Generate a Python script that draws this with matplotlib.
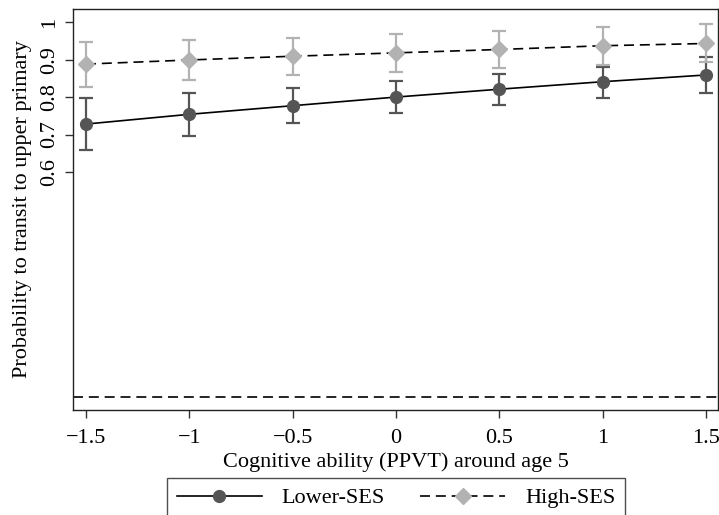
import matplotlib
matplotlib.use('Agg')
from matplotlib import pyplot as plt
from matplotlib.lines import Line2D

plt.rcParams['font.family'] = ['Liberation Serif', 'DejaVu Serif']

# cognitive ability (PPVT) grid
ppvt = [-1.5, -1, -0.5, 0, 0.5, 1, 1.5]

# Lower-SES predicted probability and 95% CI
low_p = [0.728, 0.754, 0.777, 0.800, 0.821, 0.841, 0.859]
low_lo = [0.658, 0.697, 0.730, 0.757, 0.779, 0.797, 0.811]
low_hi = [0.797, 0.810, 0.825, 0.842, 0.862, 0.881, 0.906]

# High-SES predicted probability and 95% CI
high_p = [0.888, 0.899, 0.909, 0.918, 0.927, 0.937, 0.943]
high_lo = [0.827, 0.845, 0.860, 0.868, 0.877, 0.885, 0.893]
high_hi = [0.947, 0.952, 0.958, 0.967, 0.975, 0.987, 0.995]

yticks = [0.6, 0.7, 0.8, 0.9, 1]
ytick_labels = ['0.6', '0.7', '0.8', '0.9', '1']
xticks = [-1.5, -1, -0.5, 0, 0.5, 1, 1.5]
xtick_labels = ['\u22121.5', '\u22121', '\u22120.5', '0', '0.5', '1', '1.5']

dark = '#555555'
light = '#b2b2b2'
dash = (0, (6, 3.5))
fs = 16

fig = plt.figure(figsize=(7.19, 5.15), dpi=100)
ax = fig.add_axes([0.1015, 0.2039, 0.8971, 0.7786])

ax.axhline(0, color='black', lw=1.2, linestyle=dash, zorder=1)

# error bars
ax.errorbar(ppvt, low_p,
            yerr=[[p - l for p, l in zip(low_p, low_lo)], [h - p for p, h in zip(low_p, low_hi)]],
            fmt='none', ecolor=dark, elinewidth=1.6, capsize=5, capthick=1.6, zorder=2)
ax.errorbar(ppvt, high_p,
            yerr=[[p - l for p, l in zip(high_p, high_lo)], [h - p for p, h in zip(high_p, high_hi)]],
            fmt='none', ecolor=light, elinewidth=1.6, capsize=5, capthick=1.6, zorder=2)

# lines and markers
ax.plot(ppvt, low_p, color='black', lw=1.2, zorder=3)
ax.plot(ppvt, low_p, 'o', color=dark, markersize=8.5, zorder=4)
ax.plot(ppvt, high_p, color='black', lw=1.2, linestyle=dash, zorder=3)
ax.plot(ppvt, high_p, 'D', color=light, markersize=8, zorder=4)

ax.set_xlim(-1.563, 1.558)
ax.set_ylim(-0.035, 1.035)
ax.set_xticks(xticks)
ax.set_xticklabels(xtick_labels)
ax.set_yticks(yticks)
ax.set_yticklabels(ytick_labels, rotation=90, va='center')
ax.tick_params(axis='both', labelsize=fs, length=6, width=1, color='#333333')
ax.tick_params(axis='x', pad=8)
ax.tick_params(axis='y', pad=4)
for s in ax.spines.values():
    s.set_linewidth(1)
    s.set_color('#222222')

ax.set_xlabel('Cognitive ability (PPVT) around age 5', fontsize=fs, labelpad=3)
ax.set_ylabel('Probability to transit to upper primary', fontsize=fs, labelpad=6)

handles = [
    Line2D([], [], color='black', lw=1.2, marker='o', markersize=8.5,
           markerfacecolor=dark, markeredgecolor=dark),
    Line2D([], [], color='black', lw=1.2, linestyle=dash, marker='D', markersize=8,
           markerfacecolor=light, markeredgecolor=light),
]
leg = fig.legend(handles, ['Lower-SES', 'High-SES'], loc='upper center',
                 bbox_to_anchor=(0.551, 0.072), ncol=2, fontsize=fs,
                 handlelength=3.8, handletextpad=0.9, columnspacing=1.6,
                 frameon=True, fancybox=False, borderpad=0.45, borderaxespad=0)
leg.get_frame().set_edgecolor('#222222')
leg.get_frame().set_linewidth(1)

fig.savefig('out.png', dpi=100)
